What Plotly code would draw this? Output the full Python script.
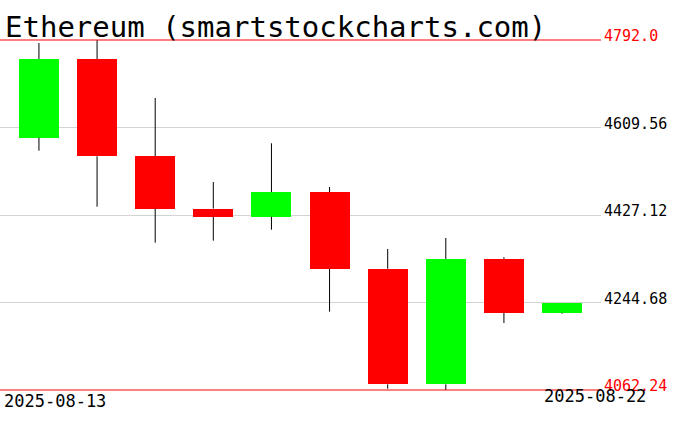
import plotly.graph_objects as go

# ---- data ----
dates = ["2025-08-13", "2025-08-14", "2025-08-15", "2025-08-16", "2025-08-17",
         "2025-08-18", "2025-08-19", "2025-08-20", "2025-08-21", "2025-08-22"]
opens = [4588.3, 4752.4, 4549.5, 4440.5, 4423.6, 4475.1, 4315.0, 4074.0, 4335.4, 4223.4]
highs = [4785.7, 4792.0, 4671.1, 4495.9, 4576.6, 4485.5, 4356.2, 4379.2, 4339.0, 4243.6]
lows = [4561.2, 4444.4, 4369.4, 4373.6, 4396.5, 4225.5, 4064.9, 4062.24, 4201.9, 4221.3]
closes = [4752.4, 4549.5, 4440.5, 4423.6, 4475.1, 4315.0, 4074.0, 4335.4, 4223.4, 4243.6]

tick_values = [4792.0, 4609.56, 4427.12, 4244.68, 4062.24]
tick_labels = ["4792.0", "4609.56", "4427.12", "4244.68", "4062.24"]
title_text = "Ethereum (smartstockcharts.com)"

FONT = "DejaVu Sans Mono"
GREEN = "#00ff00"
RED = "#ff0000"

idx = list(range(len(dates)))

# wicks (upper and lower parts, outside the body)
wx, wy = [], []
for i, (o, h, l, c) in enumerate(zip(opens, highs, lows, closes)):
    top, bot = max(o, c), min(o, c)
    if h > top:
        wx += [i, i, None]
        wy += [top, h, None]
    if l < bot:
        wx += [i, i, None]
        wy += [l, bot, None]

fig = go.Figure()
fig.add_trace(go.Scatter(x=wx, y=wy, mode="lines",
                         line=dict(color="black", width=1),
                         hoverinfo="skip", showlegend=False))

base = [min(o, c) for o, c in zip(opens, closes)]
height = [abs(c - o) for o, c in zip(opens, closes)]
colors = [GREEN if c >= o else RED for o, c in zip(opens, closes)]
fig.add_trace(go.Bar(x=idx, y=height, base=base, width=0.69,
                     marker=dict(color=colors, line=dict(width=0)),
                     showlegend=False, hovertext=dates))

hi, lo = max(tick_values), min(tick_values)
px_per_unit = 350 / (hi - lo)
pad = 10 / px_per_unit

# red max/min lines
for v in (hi, lo):
    fig.add_shape(type="line", xref="paper", x0=0, x1=1, yref="y", y0=v, y1=v,
                  line=dict(color=RED, width=1), layer="above")

# y labels
for v, t in zip(tick_values, tick_labels):
    col = RED if v in (hi, lo) else "black"
    fig.add_annotation(x=1, xref="paper", xanchor="left", xshift=1,
                       y=v, yref="y", yanchor="bottom", yshift=-7,
                       text=t, showarrow=False,
                       font=dict(family=FONT, size=15, color=col))

# date labels
fig.add_annotation(x=0, xref="paper", xanchor="left", xshift=2,
                   y=0, yref="paper", yanchor="middle", yshift=-1,
                   text=dates[0], showarrow=False,
                   font=dict(family=FONT, size=17, color="black"))
fig.add_annotation(x=1, xref="paper", xanchor="right", xshift=47,
                   y=0, yref="paper", yanchor="middle", yshift=4,
                   text=dates[-1], showarrow=False,
                   font=dict(family=FONT, size=17, color="black"))

# title
fig.add_annotation(x=0, xref="paper", xanchor="left", xshift=3,
                   y=1, yref="paper", yanchor="middle", yshift=3,
                   text=title_text, showarrow=False,
                   font=dict(family=FONT, size=29, color="black"))

fig.update_layout(
    width=676, height=431,
    margin=dict(l=0, r=75, t=30, b=31),
    paper_bgcolor="white", plot_bgcolor="white",
    bargap=0,
    xaxis=dict(range=[-0.67, 9.67], visible=False, fixedrange=True),
    yaxis=dict(range=[lo - pad, hi + pad], tickvals=tick_values[1:-1],
               showticklabels=False, showgrid=True, gridcolor="#d3d3d3",
               gridwidth=1, zeroline=False, showline=False, ticks="",
               fixedrange=True),
)

fig.write_html("out.html", config={"displayModeBar": False},
               post_script="document.body.style.margin='0';document.body.style.padding='0';")
